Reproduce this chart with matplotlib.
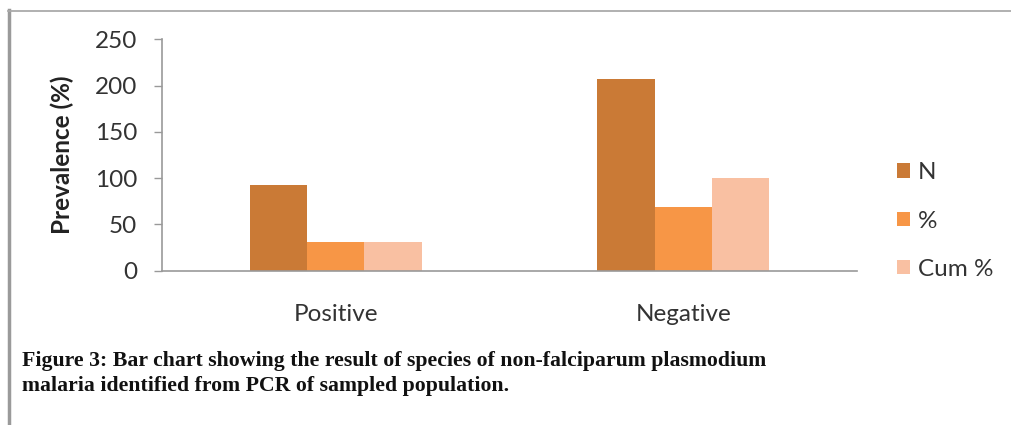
import matplotlib
matplotlib.use("Agg")
import matplotlib.pyplot as plt
from matplotlib.lines import Line2D
from matplotlib.patches import Patch
import numpy as np

categories = ["Positive", "Negative"]
series_names = ["N", "%", "Cum %"]
n_values = [93, 207]
pct_values = [31, 69]
cum_values = [31, 100]
colors = ["#CA7A36", "#F79646", "#F9C0A2"]
yticks = [0, 50, 100, 150, 200, 250]

fig = plt.figure(figsize=(10.11, 4.25), dpi=100)
fig.patch.set_facecolor("white")

W, H = 1011, 425
ax = fig.add_axes([162 / W, 1 - 270.7 / H, 695 / W, 231.4 / H])

x = np.arange(len(categories))
w = 0.165
for k, vals in enumerate([n_values, pct_values, cum_values]):
    ax.bar(x + (k - 1.5) * w, vals, width=w, align="edge", color=colors[k],
           label=series_names[k], linewidth=0)

ax.set_xlim(-0.5, 1.5)
ax.set_ylim(0, 250)
ax.set_yticks(yticks)
ax.set_xticks(x)
ax.set_xticklabels(categories, fontfamily="Lato", fontsize=17.5, color="#333333")
ax.tick_params(axis="x", length=0, pad=24)
ax.tick_params(axis="y", length=6, width=1, color="#999999", direction="out",
               labelsize=17.5, labelcolor="#333333", pad=12)
for lab in ax.get_yticklabels():
    lab.set_fontfamily("Lato")
for s in ["top", "right"]:
    ax.spines[s].set_visible(False)
for s in ["left", "bottom"]:
    ax.spines[s].set_color("#999999")
    ax.spines[s].set_linewidth(1.2)

ax.set_ylabel("Prevalence (%)", fontfamily="Lato", fontsize=17.5, fontweight="bold",
              color="#222222")
ax.yaxis.set_label_coords(-(162 - 74) / 695, 0.5)

handles = [Patch(facecolor=c, edgecolor="none") for c in colors]
fig.legend(handles, series_names, loc="center left", bbox_to_anchor=(897 / W, 1 - 221 / H),
           frameon=False, prop={"family": "Lato", "size": 17.5}, handlelength=0.55,
           handleheight=0.55, handletextpad=0.3, labelspacing=1.12, borderpad=0,
           borderaxespad=0, labelcolor="#333333")

caption1 = "Figure 3: Bar chart showing the result of species of non-falciparum plasmodium"
caption2 = "malaria identified from PCR of sampled population."
fig.text(22 / W, 1 - 361 / H, caption1, fontfamily="Liberation Serif", fontweight="bold",
         fontsize=15.7, va="center", ha="left", color="#111111")
fig.text(22 / W, 1 - 386 / H, caption2, fontfamily="Liberation Serif", fontweight="bold",
         fontsize=15.7, va="center", ha="left", color="#111111")

fig.add_artist(Line2D([8.5 / W, 8.5 / W], [0, 1 - 10 / H], color="#9a9a9a", linewidth=2.5,
                      transform=fig.transFigure))
fig.add_artist(Line2D([8 / W, 1], [1 - 10.5 / H, 1 - 10.5 / H], color="#aaaaaa", linewidth=1.3,
                      transform=fig.transFigure))

fig.savefig("out.png", dpi=100, facecolor="white")
